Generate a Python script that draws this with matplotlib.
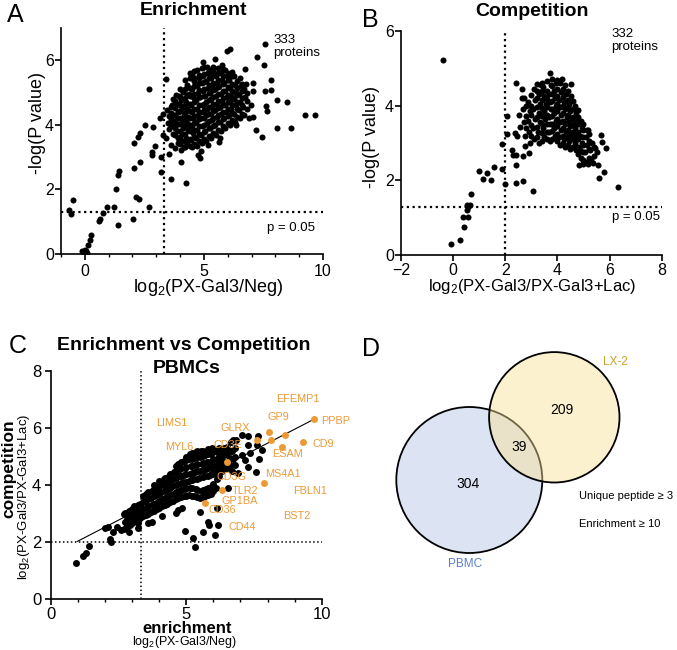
import matplotlib
matplotlib.use("Agg")
import matplotlib.pyplot as plt
from matplotlib.patches import Circle
from matplotlib.ticker import MultipleLocator

plt.rcParams["font.family"] = ["Liberation Sans", "DejaVu Sans"]
plt.rcParams["mathtext.fontset"] = "custom"
plt.rcParams["mathtext.rm"] = "Liberation Sans"
plt.rcParams["mathtext.it"] = "Liberation Sans:italic"
plt.rcParams["mathtext.bf"] = "Liberation Sans:bold"

# ---- panel A: enrichment volcano (x = log2 ratio, y = -log p) ----
enrich_pts = [
    (-0.67, 1.37), (-0.6, 1.23), (-0.5, 1.68), (-0.11, 0.08), (-0.01, 0.13), (0.05, 0.1),
    (0.08, 0.04), (-0.04, 0.02), (0.13, 0.29), (0.2, 0.44), (0.27, 0.6),
    (0.58, 1.01), (0.65, 1.09), (0.76, 1.27), (0.92, 1.45), (1.21, 1.45), (1.39, 0.9),
    (1.29, 2.02), (1.39, 2.45), (1.43, 2.57), (2.02, 1.08), (2.13, 1.78), (2.26, 1.7),
    (2.05, 2.67), (2.33, 2.86), (2.05, 3.43), (2.23, 3.63), (2.3, 3.76), (2.54, 3.99),
    (2.68, 5.12), (2.69, 1.45), (2.88, 3.93), (2.94, 3.34), (2.82, 3.16), (2.84, 3.08),
    (3.21, 2.53), (3.21, 3.0), (3.14, 4.2), (3.28, 4.35), (3.39, 5.43), (3.28, 3.68),
    (3.39, 3.58), (3.7, 3.73), (3.6, 3.37), (3.77, 3.29), (3.91, 3.43), (4.05, 3.22),
    (3.53, 3.09), (3.63, 2.31), (4.26, 2.19), (4.05, 2.84), (3.81, 4.94), (4.3, 4.94),
    (5.98, 6.29), (6.11, 6.36), (4.96, 5.95), (5.48, 6.03), (7.55, 6.51), (7.23, 6.1),
    (7.52, 5.84), (6.71, 5.72), (7.8, 5.38), (6.78, 5.28), (7.06, 5.3), (7.06, 5.04),
    (7.58, 5.04), (7.8, 5.07), (8.08, 4.78), (8.49, 4.71), (7.62, 4.59), (7.66, 4.42),
    (6.99, 4.63), (7.06, 4.25), (6.88, 4.22), (7.2, 3.84), (7.44, 3.61), (8.07, 3.91),
    (8.64, 3.91), (9.26, 4.3), (9.68, 4.3), (6.33, 3.99), (6.08, 3.99), (5.69, 3.58),
    (5.63, 3.48), (4.75, 3.06), (4.82, 2.98), (5.17, 3.37),
    (3.48, 4.05), (3.52, 4.28), (3.45, 4.45), (3.55, 3.88),
    (3.68, 4.12), (3.72, 4.32), (3.66, 4.6), (3.75, 3.95), (3.7, 4.8),
    (3.9, 4.02), (3.86, 4.22), (3.93, 4.41), (3.88, 4.66), (3.95, 4.9), (3.92, 3.6), (3.85, 3.8),
    (4.1, 3.5), (4.06, 3.72), (4.13, 3.9), (4.08, 4.12), (4.15, 4.3), (4.1, 4.52), (4.05, 4.76),
    (4.12, 5.02), (4.18, 3.32),
    (4.3, 3.42), (4.26, 3.6), (4.33, 3.84), (4.28, 4.06), (4.35, 4.25), (4.3, 4.5), (4.24, 4.7),
    (4.36, 4.95), (4.3, 5.25), (4.4, 5.6),
    (4.5, 3.3), (4.46, 3.52), (4.53, 3.75), (4.48, 3.96), (4.55, 4.2), (4.5, 4.4), (4.45, 4.62),
    (4.56, 4.85), (4.5, 5.1), (4.58, 5.35), (4.52, 5.55),
    (4.7, 3.36), (4.66, 3.6), (4.73, 3.85), (4.68, 4.1), (4.75, 4.3), (4.7, 4.5), (4.65, 4.76),
    (4.76, 5.0), (4.7, 5.2), (4.78, 5.45), (4.72, 5.7),
    (4.9, 3.45), (4.86, 3.7), (4.93, 3.95), (4.88, 4.2), (4.95, 4.4), (4.9, 4.6), (4.85, 4.85),
    (4.96, 5.05), (4.9, 5.3), (4.98, 5.5), (4.92, 5.76), (4.88, 3.2),
    (5.1, 3.5), (5.06, 3.8), (5.13, 4.05), (5.08, 4.3), (5.15, 4.5), (5.1, 4.7), (5.05, 4.9),
    (5.16, 5.15), (5.1, 5.35), (5.18, 5.6), (5.12, 5.8),
    (5.3, 3.6), (5.26, 3.9), (5.33, 4.15), (5.28, 4.35), (5.35, 4.55), (5.3, 4.8), (5.25, 5.0),
    (5.36, 5.25), (5.3, 5.45), (5.38, 5.66),
    (5.5, 3.7), (5.46, 4.0), (5.53, 4.25), (5.48, 4.45), (5.55, 4.65), (5.5, 4.9), (5.45, 5.1),
    (5.56, 5.3), (5.5, 5.5), (5.58, 5.76),
    (5.7, 3.8), (5.66, 4.1), (5.73, 4.35), (5.68, 4.55), (5.75, 4.75), (5.7, 4.95), (5.65, 5.2),
    (5.76, 5.4), (5.7, 5.6), (5.78, 5.85),
    (5.9, 3.9), (5.86, 4.2), (5.93, 4.4), (5.88, 4.6), (5.95, 4.85), (5.9, 5.05), (5.85, 5.3),
    (5.96, 5.5), (5.9, 5.7),
    (6.1, 4.02), (6.06, 4.3), (6.13, 4.5), (6.08, 4.7), (6.15, 4.9), (6.1, 5.15), (6.05, 5.4),
    (6.16, 5.65),
    (6.3, 4.1), (6.26, 4.35), (6.33, 4.6), (6.28, 4.8), (6.35, 5.0), (6.3, 5.25), (6.25, 5.5),
    (6.5, 4.2), (6.46, 4.45), (6.53, 4.7), (6.48, 4.95), (6.55, 5.2), (6.5, 5.45),
    (6.7, 4.3), (6.66, 4.55), (6.73, 4.85), (6.68, 5.1),
]
# dense core of panel A, read column by column
enrich_core = [
    (3.6, [3.97, 4.17, 4.37, 4.55]),
    (3.8, [3.7, 3.9, 4.1, 4.3, 4.52, 4.75]),
    (4.0, [3.42, 3.62, 3.82, 4.02, 4.22, 4.42, 4.63, 4.86, 5.1]),
    (4.2, [3.3, 3.5, 3.72, 3.95, 4.16, 4.38, 4.6, 4.82, 5.1, 5.4]),
    (4.4, [3.36, 3.56, 3.8, 4.0, 4.22, 4.44, 4.66, 4.9, 5.15, 5.45]),
    (4.6, [3.4, 3.62, 3.85, 4.06, 4.28, 4.5, 4.72, 4.95, 5.2, 5.45, 5.68]),
    (4.8, [3.5, 3.72, 3.96, 4.18, 4.4, 4.62, 4.85, 5.08, 5.3, 5.55]),
    (5.0, [3.55, 3.78, 4.0, 4.22, 4.45, 4.66, 4.88, 5.1, 5.33, 5.56, 5.78]),
    (5.2, [3.66, 3.9, 4.12, 4.34, 4.56, 4.78, 5.0, 5.22, 5.45, 5.7]),
    (5.4, [3.75, 3.98, 4.2, 4.42, 4.64, 4.86, 5.08, 5.3, 5.55, 5.8]),
    (5.6, [3.85, 4.08, 4.3, 4.52, 4.74, 4.96, 5.18, 5.4, 5.62]),
    (5.8, [3.95, 4.18, 4.4, 4.62, 4.84, 5.06, 5.28, 5.5, 5.72]),
    (6.0, [4.05, 4.28, 4.5, 4.72, 4.94, 5.16, 5.38, 5.6]),
    (6.2, [4.15, 4.38, 4.6, 4.82, 5.04, 5.26, 5.5]),
    (6.4, [4.25, 4.48, 4.7, 4.92, 5.14, 5.36]),
    (6.6, [4.35, 4.6, 4.82, 5.04, 5.28]),
    (6.8, [4.5, 4.75, 5.0]),
]
enrich_x = [p[0] for p in enrich_pts] + [cx for cx, ys in enrich_core for _ in ys]
enrich_y = [p[1] for p in enrich_pts] + [y for _, ys in enrich_core for y in ys]

# ---- panel B: competition volcano ----
comp_pts = [
    (-0.38, 5.23), (-0.08, 0.30), (0.26, 0.40), (0.42, 0.76), (0.39, 1.02), (0.58, 1.02),
    (0.52, 1.22), (0.58, 1.28), (0.65, 1.35), (0.52, 1.34), (0.69, 1.64), (1.0, 2.26),
    (1.13, 2.04), (1.29, 2.2), (1.45, 2.0), (1.58, 2.36), (1.87, 2.31), (2.0, 1.91),
    (1.87, 2.96), (2.08, 3.73), (2.08, 3.23), (2.41, 4.61), (2.41, 1.93), (2.41, 2.42),
    (2.27, 2.81), (2.41, 2.67), (2.37, 3.27), (2.44, 3.18), (2.53, 3.76), (2.56, 3.43),
    (3.05, 1.71), (2.67, 1.98), (6.31, 1.83), (5.6, 2.07), (5.79, 2.22), (5.86, 2.87),
    (5.67, 3.21), (4.83, 2.42), (5.0, 2.44), (5.19, 2.44), (5.35, 2.47), (5.54, 2.4),
    (5.44, 2.87), (5.19, 3.36), (3.72, 4.86), (4.16, 4.72), (4.51, 4.58), (3.2, 4.58),
    (2.65, 4.43), (2.63, 4.21), (2.31, 2.69), (2.67, 2.65), (2.92, 2.74), (2.76, 2.91),
    (5.7, 3.04), (5.5, 2.77),
    (2.72, 3.55), (2.68, 3.9), (2.75, 3.2), (2.7, 4.2),
    (2.9, 3.3), (2.86, 3.6), (2.93, 3.85), (2.88, 4.1), (2.95, 3.0),
    (3.1, 3.1), (3.06, 3.4), (3.13, 3.65), (3.08, 3.9), (3.15, 4.15), (3.1, 4.45),
    (3.3, 3.0), (3.26, 3.3), (3.33, 3.55), (3.28, 3.8), (3.35, 4.05), (3.3, 4.3), (3.36, 4.55),
    (3.5, 3.15), (3.46, 3.4), (3.53, 3.65), (3.48, 3.85), (3.55, 4.05), (3.5, 4.25), (3.46, 4.5),
    (3.7, 3.05), (3.66, 3.3), (3.73, 3.5), (3.68, 3.7), (3.75, 3.9), (3.7, 4.1), (3.66, 4.3),
    (3.74, 4.55),
    (3.9, 3.2), (3.86, 3.4), (3.93, 3.6), (3.88, 3.8), (3.95, 4.0), (3.9, 4.2), (3.86, 4.4),
    (3.94, 4.6),
    (4.1, 2.95), (4.06, 3.15), (4.13, 3.35), (4.08, 3.55), (4.15, 3.75), (4.1, 3.95), (4.06, 4.15),
    (4.14, 4.35), (4.1, 4.6),
    (4.3, 2.9), (4.26, 3.1), (4.33, 3.3), (4.28, 3.5), (4.35, 3.7), (4.3, 3.9), (4.26, 4.1),
    (4.34, 4.3), (4.3, 4.55),
    (4.5, 2.85), (4.46, 3.05), (4.53, 3.25), (4.48, 3.45), (4.55, 3.65), (4.5, 3.85), (4.46, 4.05),
    (4.54, 4.25),
    (4.7, 2.8), (4.66, 3.0), (4.73, 3.2), (4.68, 3.4), (4.75, 3.6), (4.7, 3.8), (4.66, 4.0),
    (4.9, 2.6), (4.86, 2.8), (4.93, 3.0), (4.88, 3.2), (4.95, 3.4), (4.9, 3.6),
    (5.1, 2.5), (5.06, 2.75), (5.13, 2.95), (5.08, 3.15), (5.15, 3.35),
    (5.3, 2.55), (5.26, 2.8), (5.33, 3.0),
]
comp_core = [
    (2.8, [3.4, 3.72, 4.0]),
    (3.0, [3.2, 3.48, 3.75, 4.0, 4.28]),
    (3.2, [3.15, 3.42, 3.7, 3.95, 4.2, 4.4]),
    (3.4, [3.05, 3.28, 3.5, 3.72, 3.94, 4.15, 4.38, 4.6]),
    (3.6, [3.1, 3.3, 3.52, 3.75, 3.96, 4.18, 4.4, 4.65]),
    (3.8, [3.12, 3.32, 3.52, 3.72, 3.92, 4.12, 4.32, 4.52, 4.72]),
    (4.0, [3.05, 3.25, 3.45, 3.65, 3.85, 4.05, 4.25, 4.45, 4.68]),
    (4.2, [3.0, 3.2, 3.4, 3.6, 3.8, 4.0, 4.22, 4.45]),
    (4.4, [2.95, 3.15, 3.35, 3.55, 3.75, 3.95, 4.15, 4.38]),
    (4.6, [2.9, 3.1, 3.3, 3.5, 3.7, 3.92, 4.12]),
    (4.8, [2.7, 2.9, 3.1, 3.3, 3.5, 3.7, 3.88]),
    (5.0, [2.55, 2.75, 2.95, 3.15, 3.35, 3.52]),
    (5.2, [2.6, 2.85, 3.05, 3.25]),
    (5.4, [2.65, 2.9]),
]
comp_x = [p[0] for p in comp_pts] + [cx for cx, ys in comp_core for _ in ys]
comp_y = [p[1] for p in comp_pts] + [y for _, ys in comp_core for y in ys]

# ---- panel C: enrichment vs competition (PBMCs) ----
pbmc_pts = [
    (0.92, 1.27), (1.19, 1.51), (1.29, 1.6), (1.4, 1.87), (2.22, 2.01), (2.18, 2.09),
    (1.99, 2.48), (2.12, 2.54), (2.3, 2.36), (2.43, 2.54), (2.59, 2.42), (2.89, 2.36),
    (3.2, 2.48), (3.23, 2.66), (2.73, 3.03), (2.86, 2.89), (2.98, 3.03), (3.1, 3.24),
    (3.23, 3.06), (3.57, 2.66), (3.72, 2.71), (4.09, 2.91), (4.62, 3.01), (4.7, 3.12),
    (4.83, 3.18), (4.95, 2.4), (5.32, 1.84), (5.26, 2.13), (5.63, 2.36), (6.06, 2.25),
    (6.18, 2.6), (5.79, 2.71), (5.85, 2.6), (5.5, 3.06), (6.12, 3.2), (7.57, 4.47),
    (7.7, 4.9), (7.62, 5.4), (7.78, 5.23), (7.66, 5.72), (7.29, 5.4), (7.35, 5.11),
    (7.17, 4.88), (7.04, 5.05), (6.65, 5.52), (6.83, 5.58), (7.27, 4.64), (6.92, 4.41),
    (6.55, 3.88), (7.04, 5.75), (6.73, 5.58), (7.29, 5.72),
    (2.7, 2.45), (2.74, 2.7), (2.68, 3.0),
    (2.9, 2.6), (2.94, 2.85), (2.88, 3.1),
    (3.1, 2.75), (3.14, 3.0), (3.08, 3.25),
    (3.3, 2.85), (3.34, 3.1), (3.28, 3.35),
    (3.5, 2.95), (3.54, 3.2), (3.48, 3.45), (3.52, 3.7),
    (3.7, 3.05), (3.74, 3.3), (3.68, 3.55), (3.72, 3.8),
    (3.9, 3.15), (3.94, 3.4), (3.88, 3.65), (3.92, 3.9),
    (4.1, 3.25), (4.14, 3.5), (4.08, 3.75), (4.12, 4.0), (4.16, 4.2),
    (4.3, 3.35), (4.34, 3.6), (4.28, 3.85), (4.32, 4.1), (4.36, 4.3),
    (4.5, 3.45), (4.54, 3.7), (4.48, 3.95), (4.52, 4.2), (4.56, 4.45),
    (4.7, 3.55), (4.74, 3.8), (4.68, 4.05), (4.72, 4.3), (4.76, 4.55), (4.7, 4.75),
    (4.9, 3.6), (4.94, 3.85), (4.88, 4.1), (4.92, 4.35), (4.96, 4.6), (4.9, 4.85),
    (5.1, 3.65), (5.14, 3.9), (5.08, 4.15), (5.12, 4.4), (5.16, 4.65), (5.1, 4.9), (5.14, 5.1),
    (5.3, 3.6), (5.34, 3.85), (5.28, 4.2), (5.32, 4.45), (5.36, 4.7), (5.3, 4.95), (5.34, 5.15),
    (5.5, 3.55), (5.54, 3.8), (5.48, 4.25), (5.52, 4.5), (5.56, 4.75), (5.5, 5.0), (5.54, 5.2),
    (5.7, 3.6), (5.74, 3.85), (5.68, 4.3), (5.72, 4.55), (5.76, 4.8), (5.7, 5.05),
    (5.9, 3.7), (5.94, 3.95), (5.88, 4.35), (5.92, 4.6), (5.96, 4.85), (5.9, 5.1), (5.94, 5.3),
    (6.1, 3.9), (6.14, 4.2), (6.08, 4.45), (6.12, 4.7), (6.16, 4.95), (6.1, 5.2),
    (6.3, 4.5), (6.34, 4.75), (6.28, 5.0), (6.32, 5.25),
    (6.5, 4.6), (6.54, 4.85), (6.48, 5.1), (6.52, 5.35),
    (6.7, 4.5), (6.74, 4.9), (6.68, 5.2),
]
pbmc_core = [
    (2.8, [2.55, 2.8]),
    (3.0, [2.65, 2.9, 3.15]),
    (3.2, [2.8, 3.05, 3.3]),
    (3.4, [2.9, 3.15, 3.4, 3.6]),
    (3.6, [3.0, 3.25, 3.5, 3.75]),
    (3.8, [3.1, 3.35, 3.6, 3.85, 4.0]),
    (4.0, [3.2, 3.45, 3.7, 3.95, 4.15]),
    (4.2, [3.3, 3.55, 3.8, 4.05, 4.25]),
    (4.4, [3.4, 3.65, 3.9, 4.15, 4.4]),
    (4.6, [3.5, 3.75, 4.0, 4.25, 4.5, 4.68]),
    (4.8, [3.58, 3.82, 4.08, 4.32, 4.58, 4.8]),
    (5.0, [3.62, 3.88, 4.12, 4.38, 4.62, 4.88, 5.0]),
    (5.2, [3.62, 3.88, 4.18, 4.42, 4.68, 4.92, 5.12]),
    (5.4, [3.58, 3.82, 4.22, 4.48, 4.72, 4.98, 5.18]),
    (5.6, [3.58, 3.82, 4.28, 4.52, 4.78, 5.02, 5.2]),
    (5.8, [3.65, 3.9, 4.32, 4.58, 4.82, 5.08, 5.25]),
    (6.0, [3.8, 4.05, 4.4, 4.65, 4.9, 5.15]),
    (6.2, [4.3, 4.6, 4.85, 5.1, 5.3]),
    (6.4, [4.55, 4.8, 5.05, 5.3]),
    (6.6, [4.7, 4.95, 5.2]),
    (6.8, [4.7, 5.0, 5.3]),
]
pbmc_x = [p[0] for p in pbmc_pts] + [cx for cx, ys in pbmc_core for _ in ys]
pbmc_y = [p[1] for p in pbmc_pts] + [y for _, ys in pbmc_core for y in ys]

# highlighted proteins (orange)
hit_x = [9.72, 8.06, 8.64, 8.13, 7.62, 8.52, 9.3, 7.87, 6.51, 6.31, 5.69]
hit_y = [6.31, 5.85, 5.75, 5.58, 5.58, 5.32, 5.52, 4.06, 4.8, 3.83, 3.38]

# linear fit drawn in panel C
fit_x = [0.97, 9.7]
fit_y = [2.02, 6.30]

# ---- panel D: Venn counts ----
venn_only_pbmc = 304
venn_shared = 39
venn_only_lx2 = 209

ORANGE = "#EB9A36"
W, H = 677, 650

fig = plt.figure(figsize=(W / 100, H / 100), dpi=100)


def px_axes(l, r, t, b):
    return fig.add_axes([l / W, 1 - b / H, (r - l) / W, (b - t) / H])


def ftext(x, y, s, **kw):
    fig.text(x / W, 1 - y / H, s, **kw)


def style(ax, tsize, xpad, ypad):
    for s in ["top", "right"]:
        ax.spines[s].set_visible(False)
    for s in ["left", "bottom"]:
        ax.spines[s].set_linewidth(1.2)
    ax.tick_params(width=1.2, length=4, labelsize=tsize)
    ax.tick_params(axis="x", pad=xpad)
    ax.tick_params(axis="y", pad=ypad)
    ax.tick_params(which="minor", width=1.0, length=2.5)


dots = dict(ls=(0, (1, 1.6)), lw=1.6, color="black", zorder=1)

# A
axA = px_axes(61, 323, 28, 254)
style(axA, 11.5, 3, 1)
axA.scatter(enrich_x, enrich_y, s=19, c="black", linewidths=0, zorder=3)
axA.set_xlim(-1, 10)
axA.set_ylim(0, 7)
axA.set_xticks([0, 5, 10])
axA.xaxis.set_minor_locator(MultipleLocator(1))
axA.set_yticks([0, 2, 4, 6])
axA.axvline(3.32, **dots)
axA.axhline(1.3, **dots)
axA.text(7.9, 6.43, "333\nproteins", fontsize=9.5, ha="left", va="center", linespacing=1.1)
axA.text(8.67, 0.79, "p = 0.05", fontsize=9.5, ha="center", va="center")

# B
axB = px_axes(401, 661.7, 30.7, 255.3)
style(axB, 11.5, 1.5, 1)
axB.scatter(comp_x, comp_y, s=19, c="black", linewidths=0, zorder=3)
axB.set_xlim(-2, 8)
axB.set_ylim(0, 6)
axB.set_xticks([-2, 0, 2, 4, 6, 8])
axB.set_yticks([0, 2, 4, 6])
axB.axvline(2, **dots)
axB.axhline(1.3, **dots)
axB.text(6.06, 5.745, "332\nproteins", fontsize=9.5, ha="left", va="center", linespacing=1.1)
axB.text(7.0, 1.03, "p = 0.05", fontsize=9.5, ha="center", va="center")

# C
axC = px_axes(51, 321.7, 371, 599)
style(axC, 12, 2, 3)
axC.set_xlim(0, 10)
axC.set_ylim(0, 8)
axC.set_xticks([0, 5, 10])
axC.xaxis.set_minor_locator(MultipleLocator(1))
axC.set_yticks([0, 2, 4, 6, 8])
thin = dict(ls=(0, (1, 1.6)), lw=1.1, color="black", zorder=1)
axC.axvline(3.32, **thin)
axC.axhline(2, **thin)
axC.scatter(pbmc_x, pbmc_y, s=25, c="black", linewidths=0, zorder=3)
axC.plot(fit_x, fit_y, color="black", lw=0.8, zorder=3.5)
axC.scatter(hit_x, hit_y, s=25, c=ORANGE, linewidths=0, zorder=4)
labels = [
    ("EFEMP1", 9.11, 7.0, "center"), ("PPBP", 9.97, 6.26, "left"), ("GP9", 8.4, 6.38, "center"),
    ("LIMS1", 4.46, 6.16, "center"), ("GLRX", 6.81, 5.99, "center"), ("MYL6", 4.73, 5.32, "center"),
    ("CD3E", 6.53, 5.4, "center"), ("CD9", 10.04, 5.44, "center"), ("ESAM", 8.73, 5.08, "center"),
    ("MS4A1", 8.56, 4.39, "center"), ("CD3G", 6.67, 4.27, "center"), ("FBLN1", 9.57, 3.79, "center"),
    ("TLR2", 7.17, 3.79, "center"), ("GP1BA", 6.98, 3.43, "center"), ("CD36", 6.33, 3.14, "center"),
    ("BST2", 9.08, 2.91, "center"), ("CD44", 7.07, 2.52, "center"),
]
for name, lx, ly, ha in labels:
    axC.text(lx, ly, name, color=ORANGE, fontsize=7.8, ha=ha, va="center", zorder=5)

# D: Venn
axD = fig.add_axes([340 / W, 0, 337 / W, 350 / H])
axD.set_xlim(340, 677)
axD.set_ylim(650, 300)
axD.axis("off")
axD.add_patch(Circle((469.3, 480), 73, fc="#dce3f2", ec="black", lw=1.3))
axD.add_patch(Circle((554.3, 417.3), 65.2, fc=(249 / 255, 226 / 255, 149 / 255, 0.45), ec="black", lw=1.3))
axD.text(561.7, 410, str(venn_only_lx2), fontsize=10, ha="center", va="center")
axD.text(519, 446.7, str(venn_shared), fontsize=10, ha="center", va="center")
axD.text(467.7, 484.3, str(venn_only_pbmc), fontsize=10, ha="center", va="center")
axD.text(615, 361.7, "LX-2", fontsize=8.5, color="#C9A227", ha="center", va="center")
axD.text(465, 564.3, "PBMC", fontsize=8.5, color="#5B7FC4", ha="center", va="center")
axD.text(579.3, 496, "Unique peptide \u2265 3", fontsize=8, ha="left", va="center")
axD.text(579.3, 523.7, "Enrichment \u2265 10", fontsize=8, ha="left", va="center")

# titles, panel letters, axis labels
ftext(193.3, 15, "Enrichment", fontsize=14, fontweight="bold", ha="center", va="baseline")
ftext(531.7, 15.5, "Competition", fontsize=14, fontweight="bold", ha="center", va="baseline")
ftext(184, 350, "Enrichment vs Competition", fontsize=14, fontweight="bold", ha="center", va="baseline")
ftext(186.7, 372.7, "PBMCs", fontsize=14, fontweight="bold", ha="center", va="baseline")
for letter, lx, ly in [("A", 6.7, 21.7), ("B", 361.7, 26.7), ("C", 8.3, 353.3), ("D", 361.7, 356)]:
    ftext(lx, ly, letter, fontsize=18, ha="left", va="baseline")

ftext(37, 123, "-log(P value)", fontsize=13, rotation=90, ha="center", va="center")
ftext(208.3, 292.5, r"log$_\mathregular{2}$(PX-Gal3/Neg)", fontsize=13, ha="center", va="baseline")
ftext(371, 136.7, "-log(P value)", fontsize=13, rotation=90, ha="center", va="center")
ftext(531.7, 290.5, r"log$_\mathregular{2}$(PX-Gal3/PX-Gal3+Lac)", fontsize=12, ha="center", va="baseline")
ftext(8.5, 469, "competition", fontsize=12.5, fontweight="bold", rotation=90, ha="center", va="center")
ftext(24, 497, r"log$_\mathregular{2}$(PX-Gal3/PX-Gal3+Lac)", fontsize=9.5, rotation=90, ha="center", va="center")
ftext(186.7, 633, "enrichment", fontsize=12, fontweight="bold", ha="center", va="baseline")
ftext(185, 645.5, r"log$_\mathregular{2}$(PX-Gal3/Neg)", fontsize=9, ha="center", va="baseline")

fig.savefig("out.png", dpi=100)
